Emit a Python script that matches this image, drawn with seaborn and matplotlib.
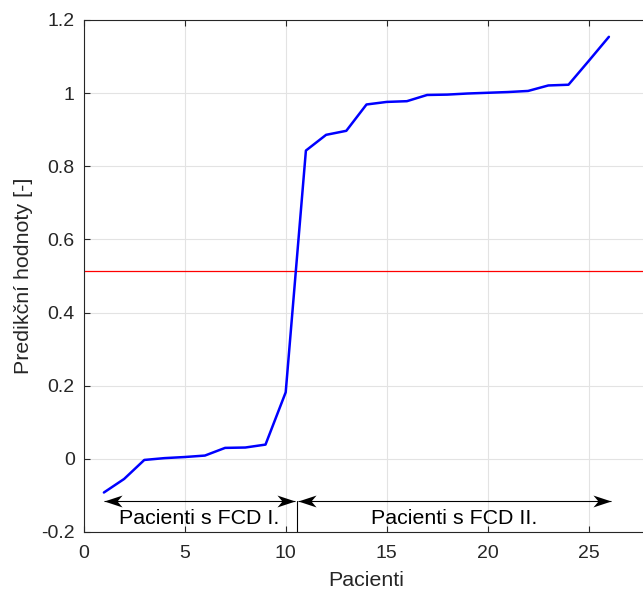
import matplotlib
matplotlib.use("Agg")
import matplotlib.pyplot as plt
from matplotlib.path import Path
import seaborn as sns
import pandas as pd

# Predicted values per patient (sorted)
pacienti = list(range(1, 27))
predikce = [-0.092, -0.055, -0.003, 0.002, 0.005, 0.009, 0.030, 0.031, 0.039, 0.182,
            0.843, 0.886, 0.897, 0.969, 0.976, 0.978, 0.995, 0.996, 0.999, 1.001,
            1.003, 1.006, 1.021, 1.023, 1.088, 1.154]
prah = 0.513  # decision threshold

x_ticks = [0, 5, 10, 15, 20, 25]
y_ticks = [-0.2, 0, 0.2, 0.4, 0.6, 0.8, 1.0, 1.2]
y_tick_labels = ["-0.2", "0", "0.2", "0.4", "0.6", "0.8", "1", "1.2"]

skupiny = ["Pacienti s FCD I.", "Pacienti s FCD II."]
skupina_od = [1.0, 10.6]
skupina_do = [10.45, 26.1]
hranice = 10.55
y_sipka = -0.115

sns.set_theme(style="white")
plt.rcParams["font.family"] = ["Liberation Sans", "DejaVu Sans"]

text_col = "#262626"
fig = plt.figure(figsize=(6.43, 5.91), dpi=100)
ax = fig.add_axes([83.7 / 643, 1 - 532 / 591, (649.3 - 83.7) / 643, (532 - 20) / 591])

df = pd.DataFrame({"Pacienti": pacienti, "Predikce": predikce})
sns.lineplot(data=df, x="Pacienti", y="Predikce", color=(0, 0, 1), lw=1.8, ax=ax, zorder=3)
ax.axhline(prah, color=(1, 0, 0), lw=0.9, zorder=2)

ax.set_xlim(0, 28)
ax.set_ylim(-0.2, 1.2)
ax.set_xticks(x_ticks)
ax.set_yticks(y_ticks)
ax.set_yticklabels(y_tick_labels)
ax.grid(True, color="#e3e3e3", lw=0.8)
ax.set_axisbelow(True)

for side in ["left", "bottom", "top"]:
    ax.spines[side].set_visible(True)
    ax.spines[side].set_color(text_col)
    ax.spines[side].set_linewidth(0.8)
ax.spines["right"].set_visible(False)

ax.tick_params(axis="both", direction="in", length=4, width=0.8, color=text_col,
               labelcolor=text_col, labelsize=14)
ax.tick_params(axis="x", pad=9, top=True, bottom=True)
ax.tick_params(axis="y", pad=6.5, left=True)

ax.set_xlabel("Pacienti", fontsize=15.4, color=text_col, labelpad=7)
ax.set_ylabel("Predikční hodnoty [-]", fontsize=15.4, color=text_col, labelpad=6)

# Swept ("stealth") arrow heads, tip at the marker origin
hrot_vpravo = Path([(0, 0), (-1, 0.33), (-0.72, 0), (-1, -0.33), (0, 0)],
                   [Path.MOVETO, Path.LINETO, Path.LINETO, Path.LINETO, Path.CLOSEPOLY])
hrot_vlevo = Path([(0, 0), (1, 0.33), (0.72, 0), (1, -0.33), (0, 0)],
                  [Path.MOVETO, Path.LINETO, Path.LINETO, Path.LINETO, Path.CLOSEPOLY])

# Group arrows and labels along the bottom
for nazev, x0, x1 in zip(skupiny, skupina_od, skupina_do):
    ax.plot([x0, x1], [y_sipka, y_sipka], color="black", lw=0.8, zorder=4,
            solid_capstyle="butt")
    ax.plot([x0], [y_sipka], marker=hrot_vlevo, markersize=26, color="black",
            markeredgewidth=0, zorder=5, clip_on=False)
    ax.plot([x1], [y_sipka], marker=hrot_vpravo, markersize=26, color="black",
            markeredgewidth=0, zorder=5, clip_on=False)
    ax.text((x0 + x1) / 2, -0.178, nazev, ha="center", va="baseline",
            fontsize=15.4, color="black", zorder=4)
ax.plot([hranice, hranice], [y_sipka, -0.2], color="black", lw=0.8, zorder=4)

fig.savefig("out.png", dpi=100)
